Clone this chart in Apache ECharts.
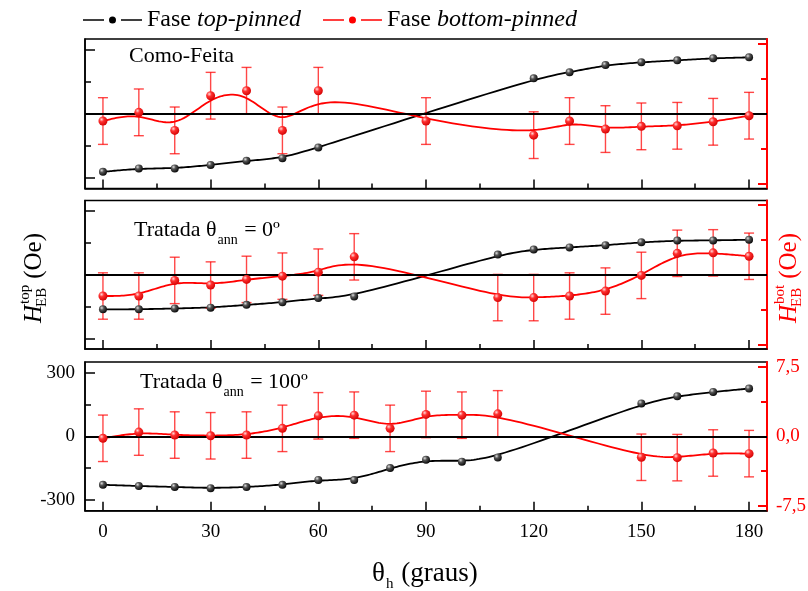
<!DOCTYPE html>
<html><head><meta charset="utf-8">
<script src="https://cdn.jsdelivr.net/npm/echarts@6/dist/echarts.min.js"></script>
<style>html,body{margin:0;padding:0;background:#fff}#c{width:808px;height:591px}</style>
</head><body><div id="c"></div><script>
// ---------- data ----------
const xTickMajor = [0, 30, 60, 90, 120, 150, 180];
const xTickMinor = [15, 45, 75, 105, 135, 165];
const leftTickMajor = [-300, 0, 300];
const leftTickMinor = [-150, 150];
const rightTickMajor = [-7.5, 0, 7.5];
const rightTickMinor = [-3.75, 3.75];

const panelTitles = ['Como-Feita', 'Tratada θ|ann| = 0º', 'Tratada θ|ann| = 100º'];

// Panel 1: Como-Feita
const topX1 = [0, 10, 20, 30, 40, 50, 60, 120, 130, 140, 150, 160, 170, 180];
const topY1 = [-272, -256, -256, -240, -220, -208, -158, 166, 194, 228, 241, 250, 260, 264];
const botX1 = [0, 10, 20, 30, 40, 50, 60, 90, 120, 130, 140, 150, 160, 170, 180];
const botY1 = [-0.78, 0.15, -1.78, 1.93, 2.46, -1.78, 2.46, -0.78, -2.29, -0.78, -1.64, -1.35, -1.29, -0.86, -0.21];
const botErr1 = [2.5, 2.5, 2.5, 2.5, 2.5, 2.5, 2.5, 2.5, 2.5, 2.5, 2.5, 2.5, 2.5, 2.5, 2.5];

// Panel 2: Tratada θann = 0º
const topX2 = [0, 10, 20, 30, 40, 50, 60, 70, 110, 120, 130, 140, 150, 160, 170, 180];
const topY2 = [-163, -163, -159, -155, -142, -130, -110, -103, 95, 119, 129, 139, 153, 161, 162, 165];
const botX2 = [0, 10, 20, 30, 40, 50, 60, 70, 110, 120, 130, 140, 150, 160, 170, 180];
const botY2 = [-2.29, -2.29, -0.61, -1.11, -0.50, -0.15, 0.28, 1.93, -2.46, -2.46, -2.29, -1.76, -0.07, 2.31, 2.36, 1.99];
const botErr2 = [2.5, 2.5, 2.5, 2.5, 2.5, 2.5, 2.5, 2.5, 2.5, 2.5, 2.5, 2.5, 2.5, 2.5, 2.5, 2.5];

// Panel 3: Tratada θann = 100º
const topX3 = [0, 10, 20, 30, 40, 50, 60, 70, 80, 90, 100, 110, 150, 160, 170, 180];
const topY3 = [-228, -234, -238, -244, -239, -228, -205, -206, -149, -110, -119, -100, 155, 189, 209, 225];
const botX3 = [0, 10, 20, 30, 40, 50, 60, 70, 80, 90, 100, 110, 150, 160, 170, 180];
const botY3 = [-0.21, 0.46, 0.14, 0.06, 0.14, 0.86, 2.21, 2.28, 0.86, 2.36, 2.28, 2.42, -2.25, -2.29, -1.79, -1.86];
const botErr3 = [2.5, 2.5, 2.5, 2.5, 2.5, 2.5, 2.5, 2.5, 2.5, 2.5, 2.5, 2.5, 2.5, 2.5, 2.5, 2.5];

// ---------- build ----------
const FONT = '"Liberation Serif", "Times New Roman", serif';
const RED = '#ff0000';
const panels = [
  {tx: topX1, ty: topY1, bx: botX1, by: botY1, be: botErr1},
  {tx: topX2, ty: topY2, bx: botX2, by: botY2, be: botErr2},
  {tx: topX3, ty: topY3, bx: botX3, by: botY3, be: botErr3}
];
const gridPos = [{top: 39, height: 149.5}, {top: 200.5, height: 148.5}, {top: 362, height: 148.7}];

const blackBall = new echarts.graphic.RadialGradient(0.35, 0.32, 0.75, [
  {offset: 0, color: '#e0e0e0'}, {offset: 0.35, color: '#555'}, {offset: 1, color: '#000'}]);
const redBall = new echarts.graphic.RadialGradient(0.35, 0.32, 0.75, [
  {offset: 0, color: '#ffd8d8'}, {offset: 0.35, color: '#ff3030'}, {offset: 1, color: '#d00000'}]);

function bspline(xs, ys, xi, yi, color, width) {
  const data = xs.map((x, i) => [x, ys[i]]);
  return {
    type: 'custom', xAxisIndex: xi, yAxisIndex: yi, data: data, silent: true, z: 2,
    encode: {x: 0, y: 1},
    renderItem: function (params, api) {
      if (params.dataIndex !== 0) return null;
      const P = data.map(d => api.coord(d));
      const n = P.length;
      const Q = [P[0], P[0]].concat(P, [P[n - 1], P[n - 1]]);
      const pts = [];
      for (let i = 0; i + 3 < Q.length; i++) {
        for (let s = (i === 0 ? 0 : 1); s <= 16; s++) {
          const t = s / 16, t2 = t * t, t3 = t2 * t;
          const b0 = (1 - t) * (1 - t) * (1 - t) / 6;
          const b1 = (3 * t3 - 6 * t2 + 4) / 6;
          const b2 = (-3 * t3 + 3 * t2 + 3 * t + 1) / 6;
          const b3 = t3 / 6;
          pts.push([
            b0 * Q[i][0] + b1 * Q[i + 1][0] + b2 * Q[i + 2][0] + b3 * Q[i + 3][0],
            b0 * Q[i][1] + b1 * Q[i + 1][1] + b2 * Q[i + 2][1] + b3 * Q[i + 3][1]
          ]);
        }
      }
      return {type: 'polyline', shape: {points: pts}, style: {stroke: color, lineWidth: width, fill: null}};
    }
  };
}

function errorBars(xs, ys, es, xi, yi) {
  return {
    type: 'custom', xAxisIndex: xi, yAxisIndex: yi, silent: true, z: 3,
    data: xs.map((x, i) => [x, ys[i], es[i]]),
    encode: {x: 0, y: 1},
    renderItem: function (params, api) {
      const x = api.value(0), y = api.value(1), e = api.value(2);
      const a = api.coord([x, y + e]), b = api.coord([x, y - e]);
      const w = 5;
      const st = {stroke: 'rgba(255,0,0,0.72)', lineWidth: 1.4};
      return {type: 'group', children: [
        {type: 'line', shape: {x1: a[0], y1: a[1], x2: b[0], y2: b[1]}, style: st},
        {type: 'line', shape: {x1: a[0] - w, y1: a[1], x2: a[0] + w, y2: a[1]}, style: st},
        {type: 'line', shape: {x1: b[0] - w, y1: b[1], x2: b[0] + w, y2: b[1]}, style: st}
      ]};
    }
  };
}

const grids = [], xAxes = [], yAxes = [], series = [];
panels.forEach((p, g) => {
  grids.push({left: 85, width: 682, top: gridPos[g].top, height: gridPos[g].height,
    show: true, borderColor: '#000', borderWidth: 1.5, backgroundColor: 'transparent',
    containLabel: false, outerBoundsMode: 'none'});
  const last = g === 2;
  xAxes.push({gridIndex: g, type: 'value', min: -5, max: 185, position: 'bottom',
    axisLine: {show: true, onZero: false, lineStyle: {color: '#000', width: 1.5}},
    axisTick: {show: true, inside: true, length: 9, customValues: xTickMajor, lineStyle: {color: '#000', width: 1.5}},
    axisLabel: {show: last, customValues: xTickMajor, color: '#000', fontFamily: FONT, fontSize: 19, margin: 12},
    splitLine: {show: false}});
  xAxes.push({gridIndex: g, type: 'value', min: -5, max: 185, position: 'bottom',
    axisLine: {show: false, onZero: false},
    axisTick: {show: true, inside: true, length: 5, customValues: xTickMinor, lineStyle: {color: '#000', width: 1.5}},
    axisLabel: {show: false}, splitLine: {show: false}});
  yAxes.push({gridIndex: g, type: 'value', min: -350, max: 350, position: 'left',
    axisLine: {show: true, onZero: false, lineStyle: {color: '#000', width: 1.5}},
    axisTick: {show: true, inside: true, length: 10, customValues: leftTickMajor, lineStyle: {color: '#000', width: 1.5}},
    axisLabel: {show: last, customValues: leftTickMajor, color: '#000', fontFamily: FONT, fontSize: 19, margin: 10},
    splitLine: {show: false}});
  yAxes.push({gridIndex: g, type: 'value', min: -350, max: 350, position: 'left',
    axisLine: {show: false, onZero: false},
    axisTick: {show: true, inside: true, length: 6, customValues: leftTickMinor, lineStyle: {color: '#000', width: 1.5}},
    axisLabel: {show: false}, splitLine: {show: false}});
  yAxes.push({gridIndex: g, type: 'value', min: -8, max: 8, position: 'right',
    axisLine: {show: true, onZero: false, lineStyle: {color: RED, width: 2}},
    axisTick: {show: true, inside: true, length: 9, customValues: rightTickMajor, lineStyle: {color: RED, width: 2}},
    axisLabel: {show: last, customValues: rightTickMajor, color: RED, fontFamily: FONT, fontSize: 19, margin: 9,
      formatter: v => v.toFixed(1).replace('.', ',')},
    splitLine: {show: false}});
  yAxes.push({gridIndex: g, type: 'value', min: -8, max: 8, position: 'right',
    axisLine: {show: false, onZero: false},
    axisTick: {show: true, inside: true, length: 6, customValues: rightTickMinor, lineStyle: {color: RED, width: 2}},
    axisLabel: {show: false}, splitLine: {show: false}});

  const xi = 2 * g, yl = 4 * g, yr = 4 * g + 2;
  series.push(bspline(p.tx, p.ty, xi, yl, '#000', 1.8));
  series.push({type: 'scatter', name: 'Fase top-pinned', xAxisIndex: xi, yAxisIndex: yl, z: 4,
    symbol: 'circle', symbolSize: 8, itemStyle: {color: blackBall, opacity: 1},
    data: p.tx.map((x, i) => [x, p.ty[i]]),
    markLine: {silent: true, symbol: ['none', 'none'], label: {show: false},
      lineStyle: {color: '#000', width: 1.8, type: 'solid'}, data: [{yAxis: 0}]}});
  series.push(bspline(p.bx, p.by, xi, yr, RED, 1.8));
  series.push(errorBars(p.bx, p.by, p.be, xi, yr));
  series.push({type: 'scatter', name: 'Fase bottom-pinned', xAxisIndex: xi, yAxisIndex: yr, z: 5,
    symbol: 'circle', symbolSize: 9, itemStyle: {color: redBall, opacity: 1},
    data: p.bx.map((x, i) => [x, p.by[i]])});
});

// text width helper
const cv = document.createElement('canvas').getContext('2d');
function tw(text, size, italic) {
  cv.font = (italic ? 'italic ' : '') + size + 'px ' + FONT;
  return cv.measureText(text).width;
}

function txt(x, y, text, size, color, italic) {
  return {type: 'text', x: x, y: y, silent: true,
    style: {text: text, fontSize: size, fontFamily: FONT, fontStyle: italic ? 'italic' : 'normal',
      fill: color, align: 'left', verticalAlign: 'middle'}};
}

// vertical axis title: H^sup_sub (Oe), rotated to read bottom-to-top
function hTitle(x, y, sup, color) {
  const S = 25, s = 15;
  const wH = tw('H', S, true);
  const wSup = tw(sup, s), wSub = tw('EB', s);
  const children = [
    txt(0, -8, 'H', S, color, true),
    txt(wH + 1, -17, sup, s, color, false),
    txt(wH - 2, 0, 'EB', s, color, false),
    txt(wH + Math.max(wSup + 1, wSub - 2) + 6, -8, '(Oe)', S, color, false)
  ];
  return {type: 'group', x: x, y: y, rotation: Math.PI / 2, children: children};
}

function panelTitle(x, yMid, spec) {
  const parts = spec.split('|');
  const S = 22, s = 14;
  const children = [];
  let cx = 0;
  parts.forEach((t, k) => {
    if (k % 2 === 0) { children.push(txt(cx, 0, t, S, '#000', false)); cx += tw(t, S); }
    else { children.push(txt(cx + 1, 10, t, s, '#000', false)); cx += tw(t, s) + 2; }
  });
  return {type: 'group', x: x, y: yMid, children: children};
}

const graphics = [
  panelTitle(129, 56, panelTitles[0]),
  panelTitle(134, 230, panelTitles[1]),
  panelTitle(140, 382, panelTitles[2]),
  hTitle(42, 323, 'top', '#000'),
  hTitle(797, 323, 'bot', RED),
  {type: 'group', x: 372, y: 574, children: [
    txt(0, 0, 'θ', 27, '#000', false),
    txt(tw('θ', 27) + 1, 10, 'h', 15, '#000', false),
    txt(tw('θ', 27) + tw('h', 15) + 2, 0, ' (graus)', 27, '#000', false)
  ]}
];

const chart = echarts.init(document.getElementById('c'), null, {renderer: 'canvas', width: 808, height: 591});
chart.setOption({
  animation: false,
  backgroundColor: '#fff',
  legend: {
    left: 83, top: 8, padding: 0, itemWidth: 59, itemHeight: 7, itemGap: 22,
    icon: 'path://M0,4.25 L21,4.25 L21,5.75 L0,5.75 Z M26,5 A3.5,3.5 0 1 1 33,5 A3.5,3.5 0 1 1 26,5 Z M38,4.25 L59,4.25 L59,5.75 L38,5.75 Z',
    data: [
      {name: 'Fase top-pinned', itemStyle: {color: '#000', borderWidth: 0}},
      {name: 'Fase bottom-pinned', itemStyle: {color: RED, borderWidth: 0}}
    ],
    selectedMode: false,
    formatter: function (name) {
      return '{n|Fase }{i|' + name.replace('Fase ', '') + '}';
    },
    textStyle: {fontFamily: FONT, fontSize: 24, color: '#000',
      rich: {n: {fontFamily: FONT, fontSize: 24, color: '#000'},
             i: {fontFamily: FONT, fontSize: 24, fontStyle: 'italic', color: '#000'}}}
  },
  grid: grids, xAxis: xAxes, yAxis: yAxes, series: series, graphic: graphics
});
</script></body></html>
